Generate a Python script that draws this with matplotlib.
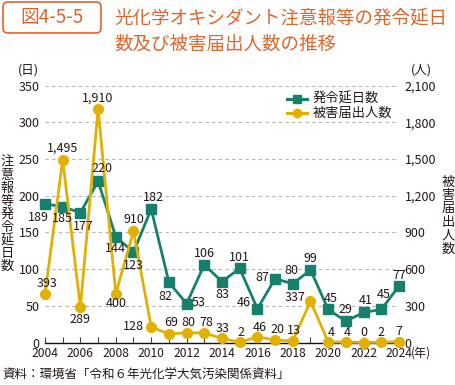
import matplotlib
matplotlib.use("Agg")
import matplotlib.pyplot as plt
from matplotlib.patches import FancyBboxPatch
from matplotlib.lines import Line2D
from matplotlib.transforms import IdentityTransform
from matplotlib.ticker import FuncFormatter, MultipleLocator

plt.rcParams['font.family'] = ['Noto Sans CJK JP', 'DejaVu Sans']

# ---- data ----
years = list(range(2004, 2025))
days = [189, 185, 177, 220, 144, 123, 182, 82, 53, 106, 83, 101, 46, 87, 80, 99, 45, 29, 41, 45, 77]
people = [393, 1495, 289, 1910, 400, 910, 128, 69, 80, 78, 33, 2, 46, 20, 13, 337, 4, 4, 0, 2, 7]
left_ticks = [0, 50, 100, 150, 200, 250, 300, 350]
right_ticks = [0, 300, 600, 900, 1200, 1500, 1800, 2100]
x_labels = list(range(2004, 2025, 2))
series_names = ["発令延日数", "被害届出人数"]
title_lines = ["光化学オキシダント注意報等の発令延日", "数及び被害届出人数の推移"]
fig_no = "図4-5-5"
left_label = "注意報等発令延日数"
right_label = "被害届出人数"
source = "資料：環境省「令和６年光化学大気汚染関係資料」"

# label offsets in pixels (dx right, dy down)
days_off = [(-7, 14), (0, 12), (3, 14), (4, -13), (0, 12), (0, 13), (2, -11), (-4, 14), (12, -1),
            (0, -11), (0, 13), (0, -11), (-14, -6), (-13, -1), (-1, -13), (0, -11), (3, -11),
            (0, -12), (2, -12), (2, -15), (0, -11)]
people_off = [(2, -11), (0, -12), (0, 12), (0, -11), (0, 10), (0, -12), (-18, 0), (2, -12), (2, -10),
              (2, -10), (1, -10), (1, -10), (2, -9), (2, -11), (1, -10), (-15, -4), (3, -10),
              (1, -10), (0, -10), (0, -10), (0, -10)]

TEAL = "#16806D"
GOLD = "#E2B000"
ORANGE = "#E0652B"
TXT = "#231815"

W, H = 455, 385
fig = plt.figure(figsize=(W / 100, H / 100), dpi=100)

def fx(x):
    return x / W

def fy(y):
    return 1 - y / H

ax_l, ax_r, ax_t, ax_b = 45, 399, 85.7, 342.5
ax = fig.add_axes([fx(ax_l), fy(ax_b), (ax_r - ax_l) / W, (ax_b - ax_t) / H])
ax2 = ax.twinx()

ax.set_xlim(2004, 2024)
ax.set_ylim(0, 350)
ax2.set_ylim(0, 2100)

for a in (ax, ax2):
    for s in ('left', 'right', 'top', 'bottom'):
        a.spines[s].set_visible(False)
ax.spines['bottom'].set_visible(True)
ax.spines['bottom'].set_color('#111111')
ax.spines['bottom'].set_linewidth(1.0)
ax.patch.set_alpha(0)

ax.set_yticks(left_ticks)
ax2.set_yticks(right_ticks)
ax2.yaxis.set_major_formatter(FuncFormatter(lambda v, p: f"{int(v):,}"))
ax.tick_params(axis='y', length=0, pad=4, labelsize=9, labelcolor=TXT)
ax2.tick_params(axis='y', length=0, pad=4, labelsize=9, labelcolor=TXT)

ax.set_xticks(x_labels)
ax.xaxis.set_minor_locator(MultipleLocator(1))
ax.tick_params(axis='x', which='both', direction='in', length=4, width=0.8, color='#444444',
               pad=3, labelsize=8.7, labelcolor=TXT)
ax.tick_params(axis='x', which='minor', labelbottom=False)

ax.yaxis.grid(True, color='#b5b5b5', linewidth=0.8, linestyle=(0, (3, 3)))
ax.set_axisbelow(True)

ax.plot(years, days, color=TEAL, lw=2.0, marker='s', ms=6.5, zorder=3, clip_on=False)
ax2.plot(years, people, color=GOLD, lw=2.0, marker='o', ms=7, zorder=3, clip_on=False)

for x, v, (dx, dy) in zip(years, days, days_off):
    ax2.annotate(f"{v:,}", (x, v), xycoords=ax.transData, xytext=(dx, -dy),
                 textcoords='offset pixels', ha='center', va='center', fontsize=9,
                 color=TXT, zorder=6)
for x, v, (dx, dy) in zip(years, people, people_off):
    ax2.annotate(f"{v:,}", (x, v), xytext=(dx, -dy), textcoords='offset pixels',
                 ha='center', va='center', fontsize=9, color=TXT, zorder=6)

# units
fig.text(fx(28), fy(70), "(日)", ha='center', va='center', fontsize=9, color=TXT)
fig.text(fx(421), fy(70), "(人)", ha='center', va='center', fontsize=9, color=TXT)
fig.text(fx(411), fy(353), "(年)", ha='left', va='center', fontsize=8.7, color=TXT)

# vertical axis labels
for i, ch in enumerate(left_label):
    fig.text(fx(7.5), fy(162 + i * 13.1), ch, ha='center', va='center', fontsize=9.5, color=TXT)
for i, ch in enumerate(right_label):
    fig.text(fx(448), fy(182 + i * 13.5), ch, ha='center', va='center', fontsize=9.5, color=TXT)

# legend
it = IdentityTransform()
for (yy, col, mk, name) in [(99, TEAL, 's', series_names[0]), (113, GOLD, 'o', series_names[1])]:
    fig.add_artist(Line2D([287, 307], [H - yy, H - yy], transform=it, color=col, lw=2.2))
    fig.add_artist(Line2D([297], [H - yy], transform=it, color=col, marker=mk, ms=6, lw=0))
    fig.text(fx(313), fy(yy), name, ha='left', va='center', fontsize=9.5, color=TXT)

# title
box = FancyBboxPatch((3, H - 33), 98, 31, boxstyle="round,pad=0,rounding_size=5",
                     transform=it, facecolor='white', edgecolor=ORANGE, lw=1.2)
fig.add_artist(box)
fig.text(fx(52), fy(17.5), fig_no, ha='center', va='center', fontsize=13.5, color=ORANGE)
fig.text(fx(114), fy(18), title_lines[0], ha='left', va='center', fontsize=13.3, color=ORANGE)
fig.text(fx(114), fy(45), title_lines[1], ha='left', va='center', fontsize=13.3, color=ORANGE)

# source
fig.text(fx(2), fy(375), source, ha='left', va='center', fontsize=9, color=TXT)

fig.savefig("out.png", dpi=100)
